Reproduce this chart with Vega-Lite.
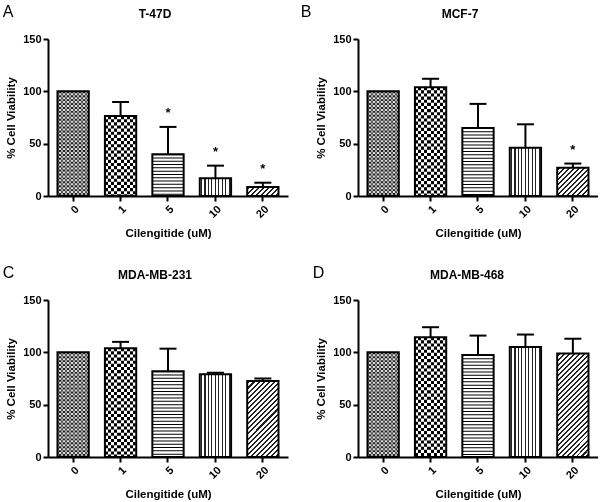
{
"$schema":"https://vega.github.io/schema/vega-lite/v6.json",
"padding":{"left":2,"top":4,"right":0,"bottom":0},
"datasets":{"cells":[
{"panel":"A","dose":"0","mean":100,"upper":null,"sig":""},
{"panel":"A","dose":"1","mean":76.4,"upper":89.8,"sig":""},
{"panel":"A","dose":"5","mean":40,"upper":66,"sig":"*"},
{"panel":"A","dose":"10","mean":17,"upper":29,"sig":"*"},
{"panel":"A","dose":"20","mean":8.5,"upper":12.7,"sig":"*"},
{"panel":"B","dose":"0","mean":100,"upper":null,"sig":""},
{"panel":"B","dose":"1","mean":104,"upper":112,"sig":""},
{"panel":"B","dose":"5","mean":65,"upper":88,"sig":""},
{"panel":"B","dose":"10","mean":46,"upper":68.5,"sig":""},
{"panel":"B","dose":"20","mean":27,"upper":31,"sig":"*"},
{"panel":"C","dose":"0","mean":100,"upper":null,"sig":""},
{"panel":"C","dose":"1","mean":104,"upper":110,"sig":""},
{"panel":"C","dose":"5","mean":82,"upper":103.5,"sig":""},
{"panel":"C","dose":"10","mean":79,"upper":80.5,"sig":""},
{"panel":"C","dose":"20","mean":72.5,"upper":75,"sig":""},
{"panel":"D","dose":"0","mean":100,"upper":null,"sig":""},
{"panel":"D","dose":"1","mean":114.5,"upper":124,"sig":""},
{"panel":"D","dose":"5","mean":97.5,"upper":116,"sig":""},
{"panel":"D","dose":"10","mean":105,"upper":117,"sig":""},
{"panel":"D","dose":"20","mean":99,"upper":113,"sig":""}
]},
"spacing":26,
"vconcat":[
{"spacing":12,"hconcat":[
{"title":{"text":"A","dx":-3,"offset":-12.5,"fontSize":16,"fontWeight":"normal"},
 "vconcat":[{
  "title":{"text":"T-47D","dx":-13,"offset":12.5,"fontSize":12,"fontWeight":"bold"},
  "width":240,"height":157,
  "data":{"name":"cells"},
  "transform":[{"filter":"datum.panel=='A'"}],
  "encoding":{"x":{"field":"dose","type":"ordinal","sort":["0","1","5","10","20"],"scale":{"paddingInner":0.34,"paddingOuter":0.2},"title":"Cilengitide (uM)"}},
  "layer":[
   {"transform":[{"filter":"datum.dose=='0'"}],"mark":{"type":"bar","fill":{"gradient":"linear","x1":0,"y1":0,"x2":1,"y2":0,"stops":[{"offset":0,"color":"#555"},{"offset":0.0625,"color":"#555"},{"offset":0.0625,"color":"#ddd"},{"offset":0.125,"color":"#ddd"},{"offset":0.125,"color":"#555"},{"offset":0.1875,"color":"#555"},{"offset":0.1875,"color":"#ddd"},{"offset":0.25,"color":"#ddd"},{"offset":0.25,"color":"#555"},{"offset":0.3125,"color":"#555"},{"offset":0.3125,"color":"#ddd"},{"offset":0.375,"color":"#ddd"},{"offset":0.375,"color":"#555"},{"offset":0.4375,"color":"#555"},{"offset":0.4375,"color":"#ddd"},{"offset":0.5,"color":"#ddd"},{"offset":0.5,"color":"#555"},{"offset":0.5625,"color":"#555"},{"offset":0.5625,"color":"#ddd"},{"offset":0.625,"color":"#ddd"},{"offset":0.625,"color":"#555"},{"offset":0.6875,"color":"#555"},{"offset":0.6875,"color":"#ddd"},{"offset":0.75,"color":"#ddd"},{"offset":0.75,"color":"#555"},{"offset":0.8125,"color":"#555"},{"offset":0.8125,"color":"#ddd"},{"offset":0.875,"color":"#ddd"},{"offset":0.875,"color":"#555"},{"offset":0.9375,"color":"#555"},{"offset":0.9375,"color":"#ddd"},{"offset":1,"color":"#ddd"}]}},"encoding":{"y":{"field":"mean","type":"quantitative","scale":{"domain":[0,150],"padding":0,"nice":false},"axis":{"values":[0,50,100,150]},"title":"% Cell Viability"}}},
   {"transform":[{"filter":"datum.dose=='1'"}],"mark":{"type":"bar","fill":{"gradient":"linear","x1":0,"y1":0,"x2":1,"y2":0,"stops":[{"offset":0,"color":"#000"},{"offset":0.1,"color":"#000"},{"offset":0.1,"color":"#fff"},{"offset":0.2,"color":"#fff"},{"offset":0.2,"color":"#000"},{"offset":0.3,"color":"#000"},{"offset":0.3,"color":"#fff"},{"offset":0.4,"color":"#fff"},{"offset":0.4,"color":"#000"},{"offset":0.5,"color":"#000"},{"offset":0.5,"color":"#fff"},{"offset":0.6,"color":"#fff"},{"offset":0.6,"color":"#000"},{"offset":0.7,"color":"#000"},{"offset":0.7,"color":"#fff"},{"offset":0.8,"color":"#fff"},{"offset":0.8,"color":"#000"},{"offset":0.9,"color":"#000"},{"offset":0.9,"color":"#fff"},{"offset":1,"color":"#fff"}]}},"encoding":{"y":{"field":"mean","type":"quantitative","title":"% Cell Viability"}}},
   {"transform":[{"filter":"datum.dose=='5'"}],"mark":{"type":"bar","fill":"#fff"},"encoding":{"y":{"field":"mean","type":"quantitative","title":"% Cell Viability"}}},
   {"transform":[{"filter":"datum.dose=='10'"}],"mark":{"type":"bar","fill":{"gradient":"linear","x1":0,"y1":0,"x2":1,"y2":0,"stops":[{"offset":0,"color":"#fff"},{"offset":0.0389,"color":"#fff"},{"offset":0.0389,"color":"#222"},{"offset":0.0722,"color":"#222"},{"offset":0.0722,"color":"#fff"},{"offset":0.15,"color":"#fff"},{"offset":0.15,"color":"#222"},{"offset":0.1833,"color":"#222"},{"offset":0.1833,"color":"#fff"},{"offset":0.2611,"color":"#fff"},{"offset":0.2611,"color":"#222"},{"offset":0.2944,"color":"#222"},{"offset":0.2944,"color":"#fff"},{"offset":0.3722,"color":"#fff"},{"offset":0.3722,"color":"#222"},{"offset":0.4056,"color":"#222"},{"offset":0.4056,"color":"#fff"},{"offset":0.4833,"color":"#fff"},{"offset":0.4833,"color":"#222"},{"offset":0.5167,"color":"#222"},{"offset":0.5167,"color":"#fff"},{"offset":0.5944,"color":"#fff"},{"offset":0.5944,"color":"#222"},{"offset":0.6278,"color":"#222"},{"offset":0.6278,"color":"#fff"},{"offset":0.7056,"color":"#fff"},{"offset":0.7056,"color":"#222"},{"offset":0.7389,"color":"#222"},{"offset":0.7389,"color":"#fff"},{"offset":0.8167,"color":"#fff"},{"offset":0.8167,"color":"#222"},{"offset":0.85,"color":"#222"},{"offset":0.85,"color":"#fff"},{"offset":0.9278,"color":"#fff"},{"offset":0.9278,"color":"#222"},{"offset":0.9611,"color":"#222"},{"offset":0.9611,"color":"#fff"},{"offset":1,"color":"#fff"}]}},"encoding":{"y":{"field":"mean","type":"quantitative","title":"% Cell Viability"}}},
   {"transform":[{"filter":"datum.dose=='20'"}],"mark":{"type":"bar","fill":{"gradient":"linear","x1":0,"y1":0,"x2":1.188,"y2":0.338,"stops":[{"offset":0,"color":"#fff"},{"offset":0.0375,"color":"#fff"},{"offset":0.0375,"color":"#222"},{"offset":0.0875,"color":"#222"},{"offset":0.0875,"color":"#fff"},{"offset":0.1625,"color":"#fff"},{"offset":0.1625,"color":"#222"},{"offset":0.2125,"color":"#222"},{"offset":0.2125,"color":"#fff"},{"offset":0.2875,"color":"#fff"},{"offset":0.2875,"color":"#222"},{"offset":0.3375,"color":"#222"},{"offset":0.3375,"color":"#fff"},{"offset":0.4125,"color":"#fff"},{"offset":0.4125,"color":"#222"},{"offset":0.4625,"color":"#222"},{"offset":0.4625,"color":"#fff"},{"offset":0.5375,"color":"#fff"},{"offset":0.5375,"color":"#222"},{"offset":0.5875,"color":"#222"},{"offset":0.5875,"color":"#fff"},{"offset":0.6625,"color":"#fff"},{"offset":0.6625,"color":"#222"},{"offset":0.7125,"color":"#222"},{"offset":0.7125,"color":"#fff"},{"offset":0.7875,"color":"#fff"},{"offset":0.7875,"color":"#222"},{"offset":0.8375,"color":"#222"},{"offset":0.8375,"color":"#fff"},{"offset":0.9125,"color":"#fff"},{"offset":0.9125,"color":"#222"},{"offset":0.9625,"color":"#222"},{"offset":0.9625,"color":"#fff"},{"offset":1,"color":"#fff"}]}},"encoding":{"y":{"field":"mean","type":"quantitative","title":"% Cell Viability"}}},
   {"transform":[{"filter":"datum.dose=='0'||datum.dose=='1'||datum.dose=='5'"}],"mark":{"type":"rule","stroke":"#fff","strokeWidth":30,"strokeCap":"butt","blend":"difference"},"encoding":{"y":{"field":"mean","type":"quantitative","title":"% Cell Viability"},"y2":{"datum":0},"strokeDash":{"condition":[{"test":"datum.dose=='0'","value":[1.956,1.956]},{"test":"datum.dose=='1'","value":[3.13,3.13]}],"value":[1,2.3]}}},
   {"mark":{"type":"bar","fillOpacity":0,"stroke":"#000","strokeWidth":2},"encoding":{"y":{"field":"mean","type":"quantitative","title":"% Cell Viability"}}},
   {"transform":[{"filter":"isValid(datum.upper)"}],"mark":{"type":"rule","stroke":"#000","strokeWidth":2},"encoding":{"y":{"field":"mean","type":"quantitative","title":"% Cell Viability"},"y2":{"field":"upper"}}},
   {"transform":[{"filter":"isValid(datum.upper)"}],"mark":{"type":"tick","color":"#000","size":17,"thickness":2,"opacity":1},"encoding":{"y":{"field":"upper","type":"quantitative","title":"% Cell Viability"}}},
   {"transform":[{"filter":"datum.sig=='*'"}],"mark":{"type":"text","fontSize":13,"fontWeight":"bold","dy":-10,"baseline":"alphabetic","color":"#000"},"encoding":{"y":{"field":"upper","type":"quantitative","title":"% Cell Viability"},"text":{"field":"sig"}}}
  ]
 }]
},
{"title":{"text":"B","dx":-15,"offset":-12.5,"fontSize":16,"fontWeight":"normal"},
 "vconcat":[{
  "title":{"text":"MCF-7","dx":-18,"offset":12.5,"fontSize":12,"fontWeight":"bold"},
  "width":240,"height":157,
  "data":{"name":"cells"},
  "transform":[{"filter":"datum.panel=='B'"}],
  "encoding":{"x":{"field":"dose","type":"ordinal","sort":["0","1","5","10","20"],"scale":{"paddingInner":0.34,"paddingOuter":0.2},"title":"Cilengitide (uM)"}},
  "layer":[
   {"transform":[{"filter":"datum.dose=='0'"}],"mark":{"type":"bar","fill":{"gradient":"linear","x1":0,"y1":0,"x2":1,"y2":0,"stops":[{"offset":0,"color":"#555"},{"offset":0.0625,"color":"#555"},{"offset":0.0625,"color":"#ddd"},{"offset":0.125,"color":"#ddd"},{"offset":0.125,"color":"#555"},{"offset":0.1875,"color":"#555"},{"offset":0.1875,"color":"#ddd"},{"offset":0.25,"color":"#ddd"},{"offset":0.25,"color":"#555"},{"offset":0.3125,"color":"#555"},{"offset":0.3125,"color":"#ddd"},{"offset":0.375,"color":"#ddd"},{"offset":0.375,"color":"#555"},{"offset":0.4375,"color":"#555"},{"offset":0.4375,"color":"#ddd"},{"offset":0.5,"color":"#ddd"},{"offset":0.5,"color":"#555"},{"offset":0.5625,"color":"#555"},{"offset":0.5625,"color":"#ddd"},{"offset":0.625,"color":"#ddd"},{"offset":0.625,"color":"#555"},{"offset":0.6875,"color":"#555"},{"offset":0.6875,"color":"#ddd"},{"offset":0.75,"color":"#ddd"},{"offset":0.75,"color":"#555"},{"offset":0.8125,"color":"#555"},{"offset":0.8125,"color":"#ddd"},{"offset":0.875,"color":"#ddd"},{"offset":0.875,"color":"#555"},{"offset":0.9375,"color":"#555"},{"offset":0.9375,"color":"#ddd"},{"offset":1,"color":"#ddd"}]}},"encoding":{"y":{"field":"mean","type":"quantitative","scale":{"domain":[0,150],"padding":0,"nice":false},"axis":{"values":[0,50,100,150]},"title":"% Cell Viability"}}},
   {"transform":[{"filter":"datum.dose=='1'"}],"mark":{"type":"bar","fill":{"gradient":"linear","x1":0,"y1":0,"x2":1,"y2":0,"stops":[{"offset":0,"color":"#000"},{"offset":0.1,"color":"#000"},{"offset":0.1,"color":"#fff"},{"offset":0.2,"color":"#fff"},{"offset":0.2,"color":"#000"},{"offset":0.3,"color":"#000"},{"offset":0.3,"color":"#fff"},{"offset":0.4,"color":"#fff"},{"offset":0.4,"color":"#000"},{"offset":0.5,"color":"#000"},{"offset":0.5,"color":"#fff"},{"offset":0.6,"color":"#fff"},{"offset":0.6,"color":"#000"},{"offset":0.7,"color":"#000"},{"offset":0.7,"color":"#fff"},{"offset":0.8,"color":"#fff"},{"offset":0.8,"color":"#000"},{"offset":0.9,"color":"#000"},{"offset":0.9,"color":"#fff"},{"offset":1,"color":"#fff"}]}},"encoding":{"y":{"field":"mean","type":"quantitative","title":"% Cell Viability"}}},
   {"transform":[{"filter":"datum.dose=='5'"}],"mark":{"type":"bar","fill":"#fff"},"encoding":{"y":{"field":"mean","type":"quantitative","title":"% Cell Viability"}}},
   {"transform":[{"filter":"datum.dose=='10'"}],"mark":{"type":"bar","fill":{"gradient":"linear","x1":0,"y1":0,"x2":1,"y2":0,"stops":[{"offset":0,"color":"#fff"},{"offset":0.0389,"color":"#fff"},{"offset":0.0389,"color":"#222"},{"offset":0.0722,"color":"#222"},{"offset":0.0722,"color":"#fff"},{"offset":0.15,"color":"#fff"},{"offset":0.15,"color":"#222"},{"offset":0.1833,"color":"#222"},{"offset":0.1833,"color":"#fff"},{"offset":0.2611,"color":"#fff"},{"offset":0.2611,"color":"#222"},{"offset":0.2944,"color":"#222"},{"offset":0.2944,"color":"#fff"},{"offset":0.3722,"color":"#fff"},{"offset":0.3722,"color":"#222"},{"offset":0.4056,"color":"#222"},{"offset":0.4056,"color":"#fff"},{"offset":0.4833,"color":"#fff"},{"offset":0.4833,"color":"#222"},{"offset":0.5167,"color":"#222"},{"offset":0.5167,"color":"#fff"},{"offset":0.5944,"color":"#fff"},{"offset":0.5944,"color":"#222"},{"offset":0.6278,"color":"#222"},{"offset":0.6278,"color":"#fff"},{"offset":0.7056,"color":"#fff"},{"offset":0.7056,"color":"#222"},{"offset":0.7389,"color":"#222"},{"offset":0.7389,"color":"#fff"},{"offset":0.8167,"color":"#fff"},{"offset":0.8167,"color":"#222"},{"offset":0.85,"color":"#222"},{"offset":0.85,"color":"#fff"},{"offset":0.9278,"color":"#fff"},{"offset":0.9278,"color":"#222"},{"offset":0.9611,"color":"#222"},{"offset":0.9611,"color":"#fff"},{"offset":1,"color":"#fff"}]}},"encoding":{"y":{"field":"mean","type":"quantitative","title":"% Cell Viability"}}},
   {"transform":[{"filter":"datum.dose=='20'"}],"mark":{"type":"bar","fill":{"gradient":"linear","x1":0,"y1":0,"x2":1.048,"y2":0.947,"stops":[{"offset":0,"color":"#fff"},{"offset":0.025,"color":"#fff"},{"offset":0.025,"color":"#222"},{"offset":0.0583,"color":"#222"},{"offset":0.0583,"color":"#fff"},{"offset":0.1083,"color":"#fff"},{"offset":0.1083,"color":"#222"},{"offset":0.1417,"color":"#222"},{"offset":0.1417,"color":"#fff"},{"offset":0.1917,"color":"#fff"},{"offset":0.1917,"color":"#222"},{"offset":0.225,"color":"#222"},{"offset":0.225,"color":"#fff"},{"offset":0.275,"color":"#fff"},{"offset":0.275,"color":"#222"},{"offset":0.3083,"color":"#222"},{"offset":0.3083,"color":"#fff"},{"offset":0.3583,"color":"#fff"},{"offset":0.3583,"color":"#222"},{"offset":0.3917,"color":"#222"},{"offset":0.3917,"color":"#fff"},{"offset":0.4417,"color":"#fff"},{"offset":0.4417,"color":"#222"},{"offset":0.475,"color":"#222"},{"offset":0.475,"color":"#fff"},{"offset":0.525,"color":"#fff"},{"offset":0.525,"color":"#222"},{"offset":0.5583,"color":"#222"},{"offset":0.5583,"color":"#fff"},{"offset":0.6083,"color":"#fff"},{"offset":0.6083,"color":"#222"},{"offset":0.6417,"color":"#222"},{"offset":0.6417,"color":"#fff"},{"offset":0.6917,"color":"#fff"},{"offset":0.6917,"color":"#222"},{"offset":0.725,"color":"#222"},{"offset":0.725,"color":"#fff"},{"offset":0.775,"color":"#fff"},{"offset":0.775,"color":"#222"},{"offset":0.8083,"color":"#222"},{"offset":0.8083,"color":"#fff"},{"offset":0.8583,"color":"#fff"},{"offset":0.8583,"color":"#222"},{"offset":0.8917,"color":"#222"},{"offset":0.8917,"color":"#fff"},{"offset":0.9417,"color":"#fff"},{"offset":0.9417,"color":"#222"},{"offset":0.975,"color":"#222"},{"offset":0.975,"color":"#fff"},{"offset":1,"color":"#fff"}]}},"encoding":{"y":{"field":"mean","type":"quantitative","title":"% Cell Viability"}}},
   {"transform":[{"filter":"datum.dose=='0'||datum.dose=='1'||datum.dose=='5'"}],"mark":{"type":"rule","stroke":"#fff","strokeWidth":30,"strokeCap":"butt","blend":"difference"},"encoding":{"y":{"field":"mean","type":"quantitative","title":"% Cell Viability"},"y2":{"datum":0},"strokeDash":{"condition":[{"test":"datum.dose=='0'","value":[1.956,1.956]},{"test":"datum.dose=='1'","value":[3.13,3.13]}],"value":[1,2.3]}}},
   {"mark":{"type":"bar","fillOpacity":0,"stroke":"#000","strokeWidth":2},"encoding":{"y":{"field":"mean","type":"quantitative","title":"% Cell Viability"}}},
   {"transform":[{"filter":"isValid(datum.upper)"}],"mark":{"type":"rule","stroke":"#000","strokeWidth":2},"encoding":{"y":{"field":"mean","type":"quantitative","title":"% Cell Viability"},"y2":{"field":"upper"}}},
   {"transform":[{"filter":"isValid(datum.upper)"}],"mark":{"type":"tick","color":"#000","size":17,"thickness":2,"opacity":1},"encoding":{"y":{"field":"upper","type":"quantitative","title":"% Cell Viability"}}},
   {"transform":[{"filter":"datum.sig=='*'"}],"mark":{"type":"text","fontSize":13,"fontWeight":"bold","dy":-10,"baseline":"alphabetic","color":"#000"},"encoding":{"y":{"field":"upper","type":"quantitative","title":"% Cell Viability"},"text":{"field":"sig"}}}
  ]
 }]
}
]},
{"spacing":24,"hconcat":[
{"title":{"text":"C","dx":-3,"offset":-12.5,"fontSize":16,"fontWeight":"normal"},
 "vconcat":[{
  "title":{"text":"MDA-MB-231","dx":-13,"offset":12.5,"fontSize":12,"fontWeight":"bold"},
  "width":240,"height":157,
  "data":{"name":"cells"},
  "transform":[{"filter":"datum.panel=='C'"}],
  "encoding":{"x":{"field":"dose","type":"ordinal","sort":["0","1","5","10","20"],"scale":{"paddingInner":0.34,"paddingOuter":0.2},"title":"Cilengitide (uM)"}},
  "layer":[
   {"transform":[{"filter":"datum.dose=='0'"}],"mark":{"type":"bar","fill":{"gradient":"linear","x1":0,"y1":0,"x2":1,"y2":0,"stops":[{"offset":0,"color":"#555"},{"offset":0.0625,"color":"#555"},{"offset":0.0625,"color":"#ddd"},{"offset":0.125,"color":"#ddd"},{"offset":0.125,"color":"#555"},{"offset":0.1875,"color":"#555"},{"offset":0.1875,"color":"#ddd"},{"offset":0.25,"color":"#ddd"},{"offset":0.25,"color":"#555"},{"offset":0.3125,"color":"#555"},{"offset":0.3125,"color":"#ddd"},{"offset":0.375,"color":"#ddd"},{"offset":0.375,"color":"#555"},{"offset":0.4375,"color":"#555"},{"offset":0.4375,"color":"#ddd"},{"offset":0.5,"color":"#ddd"},{"offset":0.5,"color":"#555"},{"offset":0.5625,"color":"#555"},{"offset":0.5625,"color":"#ddd"},{"offset":0.625,"color":"#ddd"},{"offset":0.625,"color":"#555"},{"offset":0.6875,"color":"#555"},{"offset":0.6875,"color":"#ddd"},{"offset":0.75,"color":"#ddd"},{"offset":0.75,"color":"#555"},{"offset":0.8125,"color":"#555"},{"offset":0.8125,"color":"#ddd"},{"offset":0.875,"color":"#ddd"},{"offset":0.875,"color":"#555"},{"offset":0.9375,"color":"#555"},{"offset":0.9375,"color":"#ddd"},{"offset":1,"color":"#ddd"}]}},"encoding":{"y":{"field":"mean","type":"quantitative","scale":{"domain":[0,150],"padding":0,"nice":false},"axis":{"values":[0,50,100,150]},"title":"% Cell Viability"}}},
   {"transform":[{"filter":"datum.dose=='1'"}],"mark":{"type":"bar","fill":{"gradient":"linear","x1":0,"y1":0,"x2":1,"y2":0,"stops":[{"offset":0,"color":"#000"},{"offset":0.1,"color":"#000"},{"offset":0.1,"color":"#fff"},{"offset":0.2,"color":"#fff"},{"offset":0.2,"color":"#000"},{"offset":0.3,"color":"#000"},{"offset":0.3,"color":"#fff"},{"offset":0.4,"color":"#fff"},{"offset":0.4,"color":"#000"},{"offset":0.5,"color":"#000"},{"offset":0.5,"color":"#fff"},{"offset":0.6,"color":"#fff"},{"offset":0.6,"color":"#000"},{"offset":0.7,"color":"#000"},{"offset":0.7,"color":"#fff"},{"offset":0.8,"color":"#fff"},{"offset":0.8,"color":"#000"},{"offset":0.9,"color":"#000"},{"offset":0.9,"color":"#fff"},{"offset":1,"color":"#fff"}]}},"encoding":{"y":{"field":"mean","type":"quantitative","title":"% Cell Viability"}}},
   {"transform":[{"filter":"datum.dose=='5'"}],"mark":{"type":"bar","fill":"#fff"},"encoding":{"y":{"field":"mean","type":"quantitative","title":"% Cell Viability"}}},
   {"transform":[{"filter":"datum.dose=='10'"}],"mark":{"type":"bar","fill":{"gradient":"linear","x1":0,"y1":0,"x2":1,"y2":0,"stops":[{"offset":0,"color":"#fff"},{"offset":0.0389,"color":"#fff"},{"offset":0.0389,"color":"#222"},{"offset":0.0722,"color":"#222"},{"offset":0.0722,"color":"#fff"},{"offset":0.15,"color":"#fff"},{"offset":0.15,"color":"#222"},{"offset":0.1833,"color":"#222"},{"offset":0.1833,"color":"#fff"},{"offset":0.2611,"color":"#fff"},{"offset":0.2611,"color":"#222"},{"offset":0.2944,"color":"#222"},{"offset":0.2944,"color":"#fff"},{"offset":0.3722,"color":"#fff"},{"offset":0.3722,"color":"#222"},{"offset":0.4056,"color":"#222"},{"offset":0.4056,"color":"#fff"},{"offset":0.4833,"color":"#fff"},{"offset":0.4833,"color":"#222"},{"offset":0.5167,"color":"#222"},{"offset":0.5167,"color":"#fff"},{"offset":0.5944,"color":"#fff"},{"offset":0.5944,"color":"#222"},{"offset":0.6278,"color":"#222"},{"offset":0.6278,"color":"#fff"},{"offset":0.7056,"color":"#fff"},{"offset":0.7056,"color":"#222"},{"offset":0.7389,"color":"#222"},{"offset":0.7389,"color":"#fff"},{"offset":0.8167,"color":"#fff"},{"offset":0.8167,"color":"#222"},{"offset":0.85,"color":"#222"},{"offset":0.85,"color":"#fff"},{"offset":0.9278,"color":"#fff"},{"offset":0.9278,"color":"#222"},{"offset":0.9611,"color":"#222"},{"offset":0.9611,"color":"#fff"},{"offset":1,"color":"#fff"}]}},"encoding":{"y":{"field":"mean","type":"quantitative","title":"% Cell Viability"}}},
   {"transform":[{"filter":"datum.dose=='20'"}],"mark":{"type":"bar","fill":{"gradient":"linear","x1":0,"y1":0,"x2":0.498,"y2":1.207,"stops":[{"offset":0,"color":"#fff"},{"offset":0.0143,"color":"#fff"},{"offset":0.0143,"color":"#222"},{"offset":0.0333,"color":"#222"},{"offset":0.0333,"color":"#fff"},{"offset":0.0619,"color":"#fff"},{"offset":0.0619,"color":"#222"},{"offset":0.081,"color":"#222"},{"offset":0.081,"color":"#fff"},{"offset":0.1095,"color":"#fff"},{"offset":0.1095,"color":"#222"},{"offset":0.1286,"color":"#222"},{"offset":0.1286,"color":"#fff"},{"offset":0.1571,"color":"#fff"},{"offset":0.1571,"color":"#222"},{"offset":0.1762,"color":"#222"},{"offset":0.1762,"color":"#fff"},{"offset":0.2048,"color":"#fff"},{"offset":0.2048,"color":"#222"},{"offset":0.2238,"color":"#222"},{"offset":0.2238,"color":"#fff"},{"offset":0.2524,"color":"#fff"},{"offset":0.2524,"color":"#222"},{"offset":0.2714,"color":"#222"},{"offset":0.2714,"color":"#fff"},{"offset":0.3,"color":"#fff"},{"offset":0.3,"color":"#222"},{"offset":0.319,"color":"#222"},{"offset":0.319,"color":"#fff"},{"offset":0.3476,"color":"#fff"},{"offset":0.3476,"color":"#222"},{"offset":0.3667,"color":"#222"},{"offset":0.3667,"color":"#fff"},{"offset":0.3952,"color":"#fff"},{"offset":0.3952,"color":"#222"},{"offset":0.4143,"color":"#222"},{"offset":0.4143,"color":"#fff"},{"offset":0.4429,"color":"#fff"},{"offset":0.4429,"color":"#222"},{"offset":0.4619,"color":"#222"},{"offset":0.4619,"color":"#fff"},{"offset":0.4905,"color":"#fff"},{"offset":0.4905,"color":"#222"},{"offset":0.5095,"color":"#222"},{"offset":0.5095,"color":"#fff"},{"offset":0.5381,"color":"#fff"},{"offset":0.5381,"color":"#222"},{"offset":0.5571,"color":"#222"},{"offset":0.5571,"color":"#fff"},{"offset":0.5857,"color":"#fff"},{"offset":0.5857,"color":"#222"},{"offset":0.6048,"color":"#222"},{"offset":0.6048,"color":"#fff"},{"offset":0.6333,"color":"#fff"},{"offset":0.6333,"color":"#222"},{"offset":0.6524,"color":"#222"},{"offset":0.6524,"color":"#fff"},{"offset":0.681,"color":"#fff"},{"offset":0.681,"color":"#222"},{"offset":0.7,"color":"#222"},{"offset":0.7,"color":"#fff"},{"offset":0.7286,"color":"#fff"},{"offset":0.7286,"color":"#222"},{"offset":0.7476,"color":"#222"},{"offset":0.7476,"color":"#fff"},{"offset":0.7762,"color":"#fff"},{"offset":0.7762,"color":"#222"},{"offset":0.7952,"color":"#222"},{"offset":0.7952,"color":"#fff"},{"offset":0.8238,"color":"#fff"},{"offset":0.8238,"color":"#222"},{"offset":0.8429,"color":"#222"},{"offset":0.8429,"color":"#fff"},{"offset":0.8714,"color":"#fff"},{"offset":0.8714,"color":"#222"},{"offset":0.8905,"color":"#222"},{"offset":0.8905,"color":"#fff"},{"offset":0.919,"color":"#fff"},{"offset":0.919,"color":"#222"},{"offset":0.9381,"color":"#222"},{"offset":0.9381,"color":"#fff"},{"offset":0.9667,"color":"#fff"},{"offset":0.9667,"color":"#222"},{"offset":0.9857,"color":"#222"},{"offset":0.9857,"color":"#fff"},{"offset":1,"color":"#fff"}]}},"encoding":{"y":{"field":"mean","type":"quantitative","title":"% Cell Viability"}}},
   {"transform":[{"filter":"datum.dose=='0'||datum.dose=='1'||datum.dose=='5'"}],"mark":{"type":"rule","stroke":"#fff","strokeWidth":30,"strokeCap":"butt","blend":"difference"},"encoding":{"y":{"field":"mean","type":"quantitative","title":"% Cell Viability"},"y2":{"datum":0},"strokeDash":{"condition":[{"test":"datum.dose=='0'","value":[1.956,1.956]},{"test":"datum.dose=='1'","value":[3.13,3.13]}],"value":[1,2.3]}}},
   {"mark":{"type":"bar","fillOpacity":0,"stroke":"#000","strokeWidth":2},"encoding":{"y":{"field":"mean","type":"quantitative","title":"% Cell Viability"}}},
   {"transform":[{"filter":"isValid(datum.upper)"}],"mark":{"type":"rule","stroke":"#000","strokeWidth":2},"encoding":{"y":{"field":"mean","type":"quantitative","title":"% Cell Viability"},"y2":{"field":"upper"}}},
   {"transform":[{"filter":"isValid(datum.upper)"}],"mark":{"type":"tick","color":"#000","size":17,"thickness":2,"opacity":1},"encoding":{"y":{"field":"upper","type":"quantitative","title":"% Cell Viability"}}}
  ]
 }]
},
{"title":{"text":"D","dx":-3,"offset":-12.5,"fontSize":16,"fontWeight":"normal"},
 "vconcat":[{
  "title":{"text":"MDA-MB-468","dx":-11,"offset":12.5,"fontSize":12,"fontWeight":"bold"},
  "width":240,"height":157,
  "data":{"name":"cells"},
  "transform":[{"filter":"datum.panel=='D'"}],
  "encoding":{"x":{"field":"dose","type":"ordinal","sort":["0","1","5","10","20"],"scale":{"paddingInner":0.34,"paddingOuter":0.2},"title":"Cilengitide (uM)"}},
  "layer":[
   {"transform":[{"filter":"datum.dose=='0'"}],"mark":{"type":"bar","fill":{"gradient":"linear","x1":0,"y1":0,"x2":1,"y2":0,"stops":[{"offset":0,"color":"#555"},{"offset":0.0625,"color":"#555"},{"offset":0.0625,"color":"#ddd"},{"offset":0.125,"color":"#ddd"},{"offset":0.125,"color":"#555"},{"offset":0.1875,"color":"#555"},{"offset":0.1875,"color":"#ddd"},{"offset":0.25,"color":"#ddd"},{"offset":0.25,"color":"#555"},{"offset":0.3125,"color":"#555"},{"offset":0.3125,"color":"#ddd"},{"offset":0.375,"color":"#ddd"},{"offset":0.375,"color":"#555"},{"offset":0.4375,"color":"#555"},{"offset":0.4375,"color":"#ddd"},{"offset":0.5,"color":"#ddd"},{"offset":0.5,"color":"#555"},{"offset":0.5625,"color":"#555"},{"offset":0.5625,"color":"#ddd"},{"offset":0.625,"color":"#ddd"},{"offset":0.625,"color":"#555"},{"offset":0.6875,"color":"#555"},{"offset":0.6875,"color":"#ddd"},{"offset":0.75,"color":"#ddd"},{"offset":0.75,"color":"#555"},{"offset":0.8125,"color":"#555"},{"offset":0.8125,"color":"#ddd"},{"offset":0.875,"color":"#ddd"},{"offset":0.875,"color":"#555"},{"offset":0.9375,"color":"#555"},{"offset":0.9375,"color":"#ddd"},{"offset":1,"color":"#ddd"}]}},"encoding":{"y":{"field":"mean","type":"quantitative","scale":{"domain":[0,150],"padding":0,"nice":false},"axis":{"values":[0,50,100,150]},"title":"% Cell Viability"}}},
   {"transform":[{"filter":"datum.dose=='1'"}],"mark":{"type":"bar","fill":{"gradient":"linear","x1":0,"y1":0,"x2":1,"y2":0,"stops":[{"offset":0,"color":"#000"},{"offset":0.1,"color":"#000"},{"offset":0.1,"color":"#fff"},{"offset":0.2,"color":"#fff"},{"offset":0.2,"color":"#000"},{"offset":0.3,"color":"#000"},{"offset":0.3,"color":"#fff"},{"offset":0.4,"color":"#fff"},{"offset":0.4,"color":"#000"},{"offset":0.5,"color":"#000"},{"offset":0.5,"color":"#fff"},{"offset":0.6,"color":"#fff"},{"offset":0.6,"color":"#000"},{"offset":0.7,"color":"#000"},{"offset":0.7,"color":"#fff"},{"offset":0.8,"color":"#fff"},{"offset":0.8,"color":"#000"},{"offset":0.9,"color":"#000"},{"offset":0.9,"color":"#fff"},{"offset":1,"color":"#fff"}]}},"encoding":{"y":{"field":"mean","type":"quantitative","title":"% Cell Viability"}}},
   {"transform":[{"filter":"datum.dose=='5'"}],"mark":{"type":"bar","fill":"#fff"},"encoding":{"y":{"field":"mean","type":"quantitative","title":"% Cell Viability"}}},
   {"transform":[{"filter":"datum.dose=='10'"}],"mark":{"type":"bar","fill":{"gradient":"linear","x1":0,"y1":0,"x2":1,"y2":0,"stops":[{"offset":0,"color":"#fff"},{"offset":0.0389,"color":"#fff"},{"offset":0.0389,"color":"#222"},{"offset":0.0722,"color":"#222"},{"offset":0.0722,"color":"#fff"},{"offset":0.15,"color":"#fff"},{"offset":0.15,"color":"#222"},{"offset":0.1833,"color":"#222"},{"offset":0.1833,"color":"#fff"},{"offset":0.2611,"color":"#fff"},{"offset":0.2611,"color":"#222"},{"offset":0.2944,"color":"#222"},{"offset":0.2944,"color":"#fff"},{"offset":0.3722,"color":"#fff"},{"offset":0.3722,"color":"#222"},{"offset":0.4056,"color":"#222"},{"offset":0.4056,"color":"#fff"},{"offset":0.4833,"color":"#fff"},{"offset":0.4833,"color":"#222"},{"offset":0.5167,"color":"#222"},{"offset":0.5167,"color":"#fff"},{"offset":0.5944,"color":"#fff"},{"offset":0.5944,"color":"#222"},{"offset":0.6278,"color":"#222"},{"offset":0.6278,"color":"#fff"},{"offset":0.7056,"color":"#fff"},{"offset":0.7056,"color":"#222"},{"offset":0.7389,"color":"#222"},{"offset":0.7389,"color":"#fff"},{"offset":0.8167,"color":"#fff"},{"offset":0.8167,"color":"#222"},{"offset":0.85,"color":"#222"},{"offset":0.85,"color":"#fff"},{"offset":0.9278,"color":"#fff"},{"offset":0.9278,"color":"#222"},{"offset":0.9611,"color":"#222"},{"offset":0.9611,"color":"#fff"},{"offset":1,"color":"#fff"}]}},"encoding":{"y":{"field":"mean","type":"quantitative","title":"% Cell Viability"}}},
   {"transform":[{"filter":"datum.dose=='20'"}],"mark":{"type":"bar","fill":{"gradient":"linear","x1":0,"y1":0,"x2":0.3605,"y2":1.193,"stops":[{"offset":0,"color":"#fff"},{"offset":0.0111,"color":"#fff"},{"offset":0.0111,"color":"#222"},{"offset":0.0259,"color":"#222"},{"offset":0.0259,"color":"#fff"},{"offset":0.0481,"color":"#fff"},{"offset":0.0481,"color":"#222"},{"offset":0.063,"color":"#222"},{"offset":0.063,"color":"#fff"},{"offset":0.0852,"color":"#fff"},{"offset":0.0852,"color":"#222"},{"offset":0.1,"color":"#222"},{"offset":0.1,"color":"#fff"},{"offset":0.1222,"color":"#fff"},{"offset":0.1222,"color":"#222"},{"offset":0.137,"color":"#222"},{"offset":0.137,"color":"#fff"},{"offset":0.1593,"color":"#fff"},{"offset":0.1593,"color":"#222"},{"offset":0.1741,"color":"#222"},{"offset":0.1741,"color":"#fff"},{"offset":0.1963,"color":"#fff"},{"offset":0.1963,"color":"#222"},{"offset":0.2111,"color":"#222"},{"offset":0.2111,"color":"#fff"},{"offset":0.2333,"color":"#fff"},{"offset":0.2333,"color":"#222"},{"offset":0.2481,"color":"#222"},{"offset":0.2481,"color":"#fff"},{"offset":0.2704,"color":"#fff"},{"offset":0.2704,"color":"#222"},{"offset":0.2852,"color":"#222"},{"offset":0.2852,"color":"#fff"},{"offset":0.3074,"color":"#fff"},{"offset":0.3074,"color":"#222"},{"offset":0.3222,"color":"#222"},{"offset":0.3222,"color":"#fff"},{"offset":0.3444,"color":"#fff"},{"offset":0.3444,"color":"#222"},{"offset":0.3593,"color":"#222"},{"offset":0.3593,"color":"#fff"},{"offset":0.3815,"color":"#fff"},{"offset":0.3815,"color":"#222"},{"offset":0.3963,"color":"#222"},{"offset":0.3963,"color":"#fff"},{"offset":0.4185,"color":"#fff"},{"offset":0.4185,"color":"#222"},{"offset":0.4333,"color":"#222"},{"offset":0.4333,"color":"#fff"},{"offset":0.4556,"color":"#fff"},{"offset":0.4556,"color":"#222"},{"offset":0.4704,"color":"#222"},{"offset":0.4704,"color":"#fff"},{"offset":0.4926,"color":"#fff"},{"offset":0.4926,"color":"#222"},{"offset":0.5074,"color":"#222"},{"offset":0.5074,"color":"#fff"},{"offset":0.5296,"color":"#fff"},{"offset":0.5296,"color":"#222"},{"offset":0.5444,"color":"#222"},{"offset":0.5444,"color":"#fff"},{"offset":0.5667,"color":"#fff"},{"offset":0.5667,"color":"#222"},{"offset":0.5815,"color":"#222"},{"offset":0.5815,"color":"#fff"},{"offset":0.6037,"color":"#fff"},{"offset":0.6037,"color":"#222"},{"offset":0.6185,"color":"#222"},{"offset":0.6185,"color":"#fff"},{"offset":0.6407,"color":"#fff"},{"offset":0.6407,"color":"#222"},{"offset":0.6556,"color":"#222"},{"offset":0.6556,"color":"#fff"},{"offset":0.6778,"color":"#fff"},{"offset":0.6778,"color":"#222"},{"offset":0.6926,"color":"#222"},{"offset":0.6926,"color":"#fff"},{"offset":0.7148,"color":"#fff"},{"offset":0.7148,"color":"#222"},{"offset":0.7296,"color":"#222"},{"offset":0.7296,"color":"#fff"},{"offset":0.7519,"color":"#fff"},{"offset":0.7519,"color":"#222"},{"offset":0.7667,"color":"#222"},{"offset":0.7667,"color":"#fff"},{"offset":0.7889,"color":"#fff"},{"offset":0.7889,"color":"#222"},{"offset":0.8037,"color":"#222"},{"offset":0.8037,"color":"#fff"},{"offset":0.8259,"color":"#fff"},{"offset":0.8259,"color":"#222"},{"offset":0.8407,"color":"#222"},{"offset":0.8407,"color":"#fff"},{"offset":0.863,"color":"#fff"},{"offset":0.863,"color":"#222"},{"offset":0.8778,"color":"#222"},{"offset":0.8778,"color":"#fff"},{"offset":0.9,"color":"#fff"},{"offset":0.9,"color":"#222"},{"offset":0.9148,"color":"#222"},{"offset":0.9148,"color":"#fff"},{"offset":0.937,"color":"#fff"},{"offset":0.937,"color":"#222"},{"offset":0.9519,"color":"#222"},{"offset":0.9519,"color":"#fff"},{"offset":0.9741,"color":"#fff"},{"offset":0.9741,"color":"#222"},{"offset":0.9889,"color":"#222"},{"offset":0.9889,"color":"#fff"},{"offset":1,"color":"#fff"}]}},"encoding":{"y":{"field":"mean","type":"quantitative","title":"% Cell Viability"}}},
   {"transform":[{"filter":"datum.dose=='0'||datum.dose=='1'||datum.dose=='5'"}],"mark":{"type":"rule","stroke":"#fff","strokeWidth":30,"strokeCap":"butt","blend":"difference"},"encoding":{"y":{"field":"mean","type":"quantitative","title":"% Cell Viability"},"y2":{"datum":0},"strokeDash":{"condition":[{"test":"datum.dose=='0'","value":[1.956,1.956]},{"test":"datum.dose=='1'","value":[3.13,3.13]}],"value":[1,2.3]}}},
   {"mark":{"type":"bar","fillOpacity":0,"stroke":"#000","strokeWidth":2},"encoding":{"y":{"field":"mean","type":"quantitative","title":"% Cell Viability"}}},
   {"transform":[{"filter":"isValid(datum.upper)"}],"mark":{"type":"rule","stroke":"#000","strokeWidth":2},"encoding":{"y":{"field":"mean","type":"quantitative","title":"% Cell Viability"},"y2":{"field":"upper"}}},
   {"transform":[{"filter":"isValid(datum.upper)"}],"mark":{"type":"tick","color":"#000","size":17,"thickness":2,"opacity":1},"encoding":{"y":{"field":"upper","type":"quantitative","title":"% Cell Viability"}}}
  ]
 }]
}
]}
],
"config":{
 "view":{"stroke":null},
 "font":"Liberation Sans",
 "scale":{"continuousPadding":0},
 "title":{"font":"Liberation Sans","color":"#000"},
 "axis":{"grid":false,"domainColor":"#000","domainWidth":2,"tickColor":"#000","tickWidth":2,"tickSize":5,"labelColor":"#000","labelFont":"Liberation Sans","labelFontSize":11,"labelFontWeight":"bold","titleColor":"#000","titleFont":"Liberation Sans","titleFontSize":11.5,"titleFontWeight":"bold"},
 "axisX":{"labelAngle":-45,"titlePadding":8},
 "axisY":{"titlePadding":6}
}
}
